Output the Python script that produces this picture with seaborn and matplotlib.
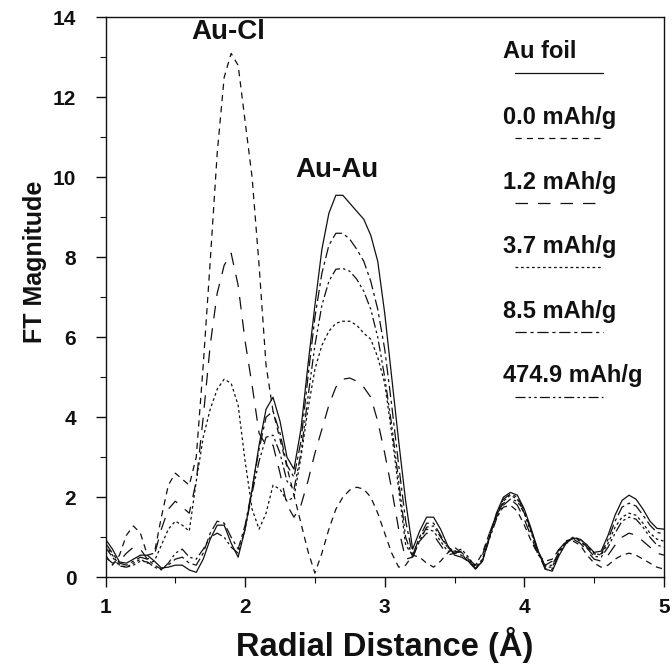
import numpy as np
import pandas as pd
import matplotlib
matplotlib.use("Agg")
import matplotlib.pyplot as plt
import seaborn as sns

# radial distance grid (Angstrom), 0.05 step
r = np.round(np.linspace(1.0, 5.0, 81), 2)

au_foil = [0.95, 0.70, 0.38, 0.35, 0.45, 0.55, 0.55, 0.40, 0.23, 0.25,
           0.30, 0.30, 0.18, 0.12, 0.45, 0.95, 1.30, 1.30, 0.85, 0.50,
           1.20, 2.20, 3.30, 4.20, 4.50, 3.90, 3.00, 2.70, 3.70, 5.30,
           6.80, 8.20, 9.10, 9.55, 9.55, 9.35, 9.15, 8.95, 8.55, 7.90,
           6.60, 5.00, 3.40, 1.90, 0.70, 1.15, 1.50, 1.50, 1.20, 0.80,
           0.55, 0.50, 0.40, 0.20, 0.40, 1.00, 1.60, 2.00, 2.12, 2.05,
           1.70, 1.20, 0.65, 0.20, 0.15, 0.55, 0.85, 0.98, 0.95, 0.80,
           0.62, 0.65, 1.05, 1.55, 1.92, 2.05, 1.95, 1.70, 1.40, 1.22,
           1.20]

mah_0_0 = [0.55, 0.30, 0.55, 1.05, 1.28, 1.10, 0.55, 0.60, 1.50, 2.30,
           2.60, 2.45, 2.30, 3.00, 5.30, 7.90, 10.60, 12.50, 13.10, 12.80,
           11.40, 10.00, 7.80, 5.30, 4.15, 3.45, 2.75, 2.05, 1.35, 0.65,
           0.10, 0.60, 1.20, 1.70, 2.00, 2.18, 2.25, 2.20, 2.00, 1.60,
           1.10, 0.60, 0.25, 0.30, 0.55, 0.50, 0.35, 0.25, 0.40, 0.60,
           0.75, 0.60, 0.35, 0.30, 0.60, 1.10, 1.50, 1.75, 1.80, 1.65,
           1.30, 0.90, 0.55, 0.40, 0.45, 0.70, 0.85, 0.90, 0.80, 0.55,
           0.35, 0.25, 0.30, 0.45, 0.55, 0.60, 0.55, 0.45, 0.35, 0.25,
           0.20]

mah_1_2 = [0.50, 0.35, 0.40, 0.60, 0.75, 0.70, 0.45, 0.55, 1.20, 1.70,
           1.90, 1.75, 1.60, 2.40, 4.00, 5.80, 7.10, 7.80, 8.10, 7.30,
           5.90, 4.80, 3.60, 3.30, 3.30, 2.60, 1.80, 1.50, 1.80, 2.40,
           3.10, 3.70, 4.30, 4.75, 4.95, 4.98, 4.90, 4.75, 4.50, 3.90,
           3.10, 2.20, 1.20, 0.45, 0.50, 0.90, 1.10, 1.05, 0.80, 0.55,
           0.60, 0.65, 0.45, 0.30, 0.55, 1.10, 1.55, 1.85, 1.95, 1.80,
           1.45, 1.00, 0.55, 0.30, 0.40, 0.70, 0.90, 0.95, 0.85, 0.65,
           0.45, 0.40, 0.55, 0.80, 1.00, 1.10, 1.05, 0.90, 0.75, 0.60,
           0.55]

mah_3_7 = [0.80, 0.55, 0.30, 0.25, 0.35, 0.45, 0.35, 0.40, 0.80, 1.20,
           1.40, 1.30, 1.15, 2.40, 3.50, 4.20, 4.70, 4.95, 4.85, 4.30,
           2.90, 1.70, 1.20, 1.60, 2.30, 2.20, 1.90, 2.00, 3.00, 4.20,
           5.20, 5.80, 6.15, 6.35, 6.40, 6.40, 6.30, 6.10, 5.95, 5.50,
           4.85, 3.60, 2.20, 0.80, 0.55, 1.00, 1.20, 1.15, 0.90, 0.65,
           0.65, 0.70, 0.50, 0.25, 0.45, 1.00, 1.55, 1.90, 2.05, 1.95,
           1.60, 1.10, 0.60, 0.25, 0.25, 0.65, 0.90, 1.00, 0.95, 0.80,
           0.60, 0.55, 0.85, 1.25, 1.50, 1.60, 1.55, 1.35, 1.10, 0.95,
           0.90]

mah_8_5 = [0.85, 0.60, 0.35, 0.30, 0.40, 0.50, 0.45, 0.30, 0.20, 0.30,
           0.45, 0.50, 0.35, 0.30, 0.60, 1.10, 1.40, 1.35, 1.00, 0.70,
           1.30, 2.20, 3.20, 4.00, 4.15, 3.60, 2.80, 2.50, 3.40, 5.00,
           6.50, 7.60, 8.30, 8.60, 8.60, 8.45, 8.20, 7.90, 7.40, 6.70,
           5.70, 4.30, 2.80, 1.40, 0.55, 1.00, 1.35, 1.35, 1.05, 0.75,
           0.60, 0.55, 0.40, 0.20, 0.40, 1.00, 1.55, 1.95, 2.08, 2.00,
           1.65, 1.15, 0.60, 0.20, 0.20, 0.60, 0.88, 0.98, 0.92, 0.75,
           0.58, 0.58, 0.95, 1.40, 1.75, 1.85, 1.78, 1.55, 1.30, 1.12,
           1.08]

mah_474_9 = [0.75, 0.50, 0.28, 0.25, 0.30, 0.40, 0.38, 0.25, 0.18, 0.35,
             0.60, 0.70, 0.50, 0.45, 0.70, 1.00, 1.10, 1.00, 0.75, 0.60,
             1.20, 2.10, 2.90, 3.50, 3.55, 3.10, 2.40, 2.20, 3.10, 4.50,
             5.80, 6.80, 7.40, 7.70, 7.72, 7.65, 7.45, 7.15, 6.70, 6.00,
             5.00, 3.80, 2.40, 1.00, 0.50, 0.90, 1.25, 1.28, 1.00, 0.75,
             0.65, 0.62, 0.45, 0.22, 0.42, 0.95, 1.45, 1.80, 1.95, 1.90,
             1.60, 1.15, 0.65, 0.28, 0.30, 0.65, 0.90, 0.97, 0.90, 0.72,
             0.52, 0.50, 0.75, 1.10, 1.40, 1.50, 1.45, 1.25, 1.00, 0.80,
             0.75]

labels = ["Au foil", "0.0 mAh/g", "1.2 mAh/g", "3.7 mAh/g", "8.5 mAh/g", "474.9 mAh/g"]
series = [au_foil, mah_0_0, mah_1_2, mah_3_7, mah_8_5, mah_474_9]

dash_styles = {
    "Au foil": "",
    "0.0 mAh/g": (5, 4),
    "1.2 mAh/g": (10, 8),
    "3.7 mAh/g": (2.2, 2.2),
    "8.5 mAh/g": (9, 3, 2.5, 3),
    "474.9 mAh/g": (8, 2.5, 2, 2.5, 2, 2.5),
}

df = pd.concat([pd.DataFrame({"r": r, "ft": vals, "sample": lab})
                for lab, vals in zip(labels, series)], ignore_index=True)

sns.set_style("ticks")
plt.rcParams["font.family"] = ["Liberation Sans", "DejaVu Sans"]
plt.rcParams["font.weight"] = "bold"

fig = plt.figure(figsize=(6.72, 6.68), dpi=100)
ax = fig.add_axes([0.157, 0.136, 0.831, 0.838])

ink = "#111111"
sns.lineplot(data=df, x="r", y="ft", style="sample", style_order=labels,
             dashes=dash_styles, color=ink, linewidth=0.9,
             estimator=None, sort=False, legend=False, ax=ax)

ax.set_xlim(1, 5)
ax.set_ylim(0, 14)
ax.set_xticks([1, 2, 3, 4, 5])
ax.set_yticks(range(0, 15, 2))
ax.set_xticks(np.arange(1.5, 5, 1.0), minor=True)
ax.set_yticks(range(1, 14, 2), minor=True)
ax.tick_params(axis="both", which="major", length=7, width=1, labelsize=15, colors=ink)
ax.tick_params(axis="both", which="minor", length=4, width=0.8, colors=ink)
ax.tick_params(axis="x", which="major", pad=8)
ax.tick_params(axis="y", which="major", pad=14)
for lab in ax.get_xticklabels() + ax.get_yticklabels():
    lab.set_fontweight("bold")
for side in ["left", "right", "top", "bottom"]:
    ax.spines[side].set_visible(True)
    ax.spines[side].set_linewidth(1.0)
    ax.spines[side].set_color(ink)

ax.set_xlabel("Radial Distance (Å)", fontsize=23.5, fontweight="bold", color=ink)
ax.set_ylabel("FT Magnitude", fontsize=18, fontweight="bold", color=ink)
ax.xaxis.set_label_coords(0.5, -0.088)
ax.yaxis.set_label_coords(-0.105, 0.5625)

# peak annotations
ax.text(1.88, 13.63, "Au-Cl", ha="center", va="center", fontsize=20, fontweight="bold", color=ink)
ax.text(2.66, 10.19, "Au-Au", ha="center", va="center", fontsize=20, fontweight="bold", color=ink)

# hand-made legend: label with line sample underneath
text_y = [0.939, 0.8214, 0.705, 0.591, 0.475, 0.361]
line_y = [0.900, 0.784, 0.668, 0.554, 0.4375, 0.321]
for lab, ty, ly in zip(labels, text_y, line_y):
    ax.text(0.712, ty, lab, transform=ax.transAxes, ha="left", va="center",
            fontsize=17, fontweight="bold", color=ink)
    ln, = ax.plot([0.733, 0.891], [ly, ly], transform=ax.transAxes,
                  color=ink, linewidth=0.9)
    if dash_styles[lab]:
        ln.set_dashes(dash_styles[lab])

fig.savefig("out.png", dpi=100, facecolor="white")
